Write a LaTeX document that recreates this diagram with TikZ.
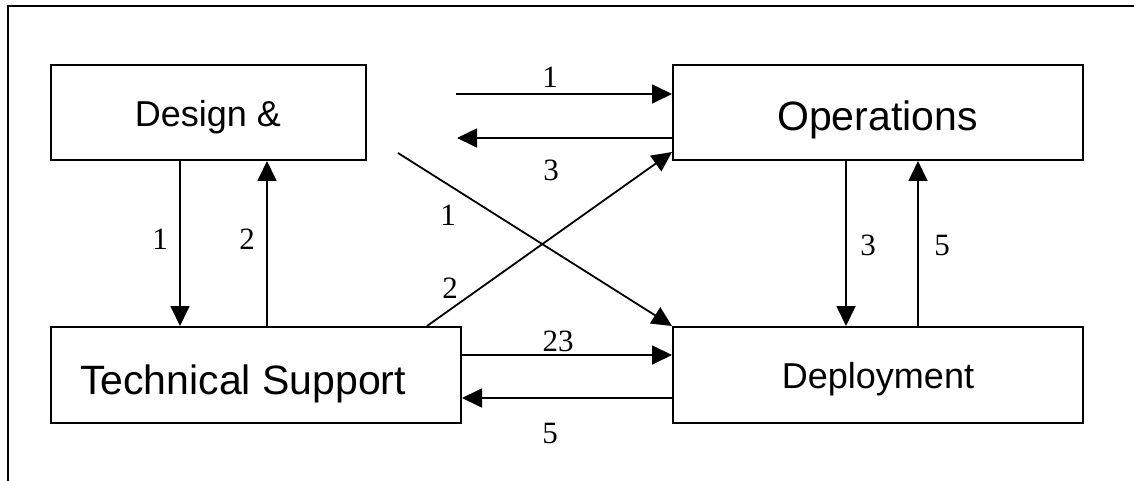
\documentclass[tikz,border=0pt]{standalone}
\usepackage{fontspec}
\setmainfont{Liberation Serif}
\newfontfamily\boxfont{Liberation Sans}
\usetikzlibrary{arrows.meta}
\begin{document}
\begin{tikzpicture}[x=1pt,y=-1pt,
  box/.style={draw,line width=2pt,rectangle,inner sep=0pt},
  boxtext/.style={anchor=base,inner sep=0pt,font=\boxfont},
  num/.style={anchor=base,inner sep=0pt,font=\fontsize{31}{31}\selectfont},
  arr/.style={line width=1.8pt,-{Triangle[length=20pt,width=19pt]}},
  ln/.style={line width=2pt}]
\useasboundingbox (0,0) rectangle (1134,481);
% frame
\coordinate (fr1) at (1134,6);
\coordinate (fr2) at (8,6);
\coordinate (fr3) at (8,481);
\draw[ln] (fr1) -- (fr2) -- (fr3);
% boxes
\node[box,minimum width=315pt,minimum height=95pt] (design) at (208.5,112.5) {};
\node[box,minimum width=410pt,minimum height=96pt] (tech) at (256,375) {};
\node[box,minimum width=410pt,minimum height=95pt] (ops) at (878,112.5) {};
\node[box,minimum width=410pt,minimum height=96pt] (deploy) at (878,375) {};
% box texts
\node[boxtext,font=\boxfont\fontsize{36}{36}\selectfont] (tdesign) at (208,127) {Design \&};
\node[boxtext,font=\boxfont\fontsize{41}{41}\selectfont] (ttech) at (243,394) {Technical Support};
\node[boxtext,font=\boxfont\fontsize{41}{41}\selectfont] (tops) at (877.5,131) {Operations};
\node[boxtext,font=\boxfont\fontsize{36}{36}\selectfont] (tdeploy) at (878,388) {Deployment};
% free ends
\coordinate (s1) at (456,94);
\coordinate (e3) at (457,138);
\coordinate (s1d) at (398,153);
% connectors
\draw[arr] ([xshift=130pt]design.south west) -- ([xshift=130pt]tech.north west);
\draw[arr] ([xshift=217pt]tech.north west) -- ([xshift=217pt]design.south west);
\draw[arr] ([xshift=174pt]ops.south west) -- ([xshift=174pt]deploy.north west);
\draw[arr] ([xshift=246pt]deploy.north west) -- ([xshift=246pt]ops.south west);
\draw[arr] (s1) -- (s1 -| ops.west);
\draw[arr] (e3 -| ops.west) -- (e3);
\draw[arr] (s1d) -- (deploy.north west);
\draw[arr] ([xshift=377pt]tech.north west) -- ([yshift=-88pt]ops.north west);
\draw[arr] ([yshift=-29pt]tech.north east) -- ([yshift=-29pt]deploy.north west);
\draw[arr] ([yshift=-72pt]deploy.north west) -- ([yshift=-72pt]tech.north east);
% labels
\node[num] (l1) at (550,88) {1};
\node[num] (l3) at (551,181) {3};
\node[num] (l1d) at (448,225) {1};
\node[num] (l2d) at (450,298) {2};
\node[num] (l1v) at (160,249) {1};
\node[num] (l2v) at (247,249) {2};
\node[num] (l3v) at (868,255) {3};
\node[num] (l5v) at (942,255) {5};
\node[num] (l23) at (558,351) {23};
\node[num] (l5b) at (550,443) {5};
\end{tikzpicture}
\end{document}
